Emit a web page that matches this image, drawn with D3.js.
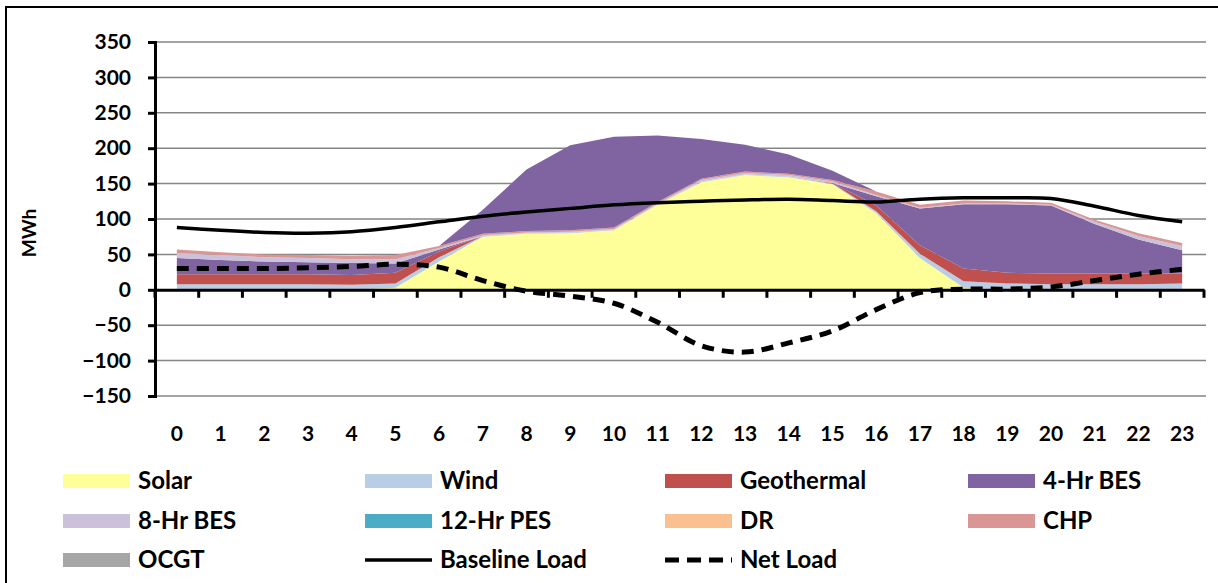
<!DOCTYPE html>
<html>
<head>
<meta charset="utf-8">
<script src="https://cdn.jsdelivr.net/npm/d3@7/dist/d3.min.js"></script>
<style>
  body { margin: 0; background: #fff; }
  text { font-family: Lato, "Open Sans", sans-serif; fill: #000; }
</style>
</head>
<body>
<div id="chart-area"></div>
<script>
// hours of the day
var hours = [0, 1, 2, 3, 4, 5, 6, 7, 8, 9, 10, 11, 12, 13, 14, 15, 16, 17, 18, 19, 20, 21, 22, 23];

// stacked generation (MWh)
var solar      = [0, 0, 0, 0, 0, 3, 40, 75, 79, 80, 84, 120, 152, 162, 159, 149, 108, 45, 3, 0, 0, 0, 0, 0];
var wind       = [8, 8, 8, 8, 7, 6, 6, 1, 1, 1, 1, 1, 1, 1, 1, 1, 3, 6, 9, 9, 8, 8, 8, 9];
var geothermal = [14, 14, 14, 14, 14, 15, 8, 0, 0, 0, 0, 0, 0, 0, 0, 1, 8, 12, 18, 15, 15, 15, 15, 14];
var bes4       = [23, 20, 18, 17, 17, 13, 3, 0, 0, 0, 0, 0, 0, 0, 0, 0, 13, 52, 91, 97, 96, 70, 48, 33];
var bes8       = [7, 7, 6, 6, 5, 6, 2, 1, 1, 1, 1, 1, 2, 2, 2, 2, 2, 1, 1, 1, 1, 3, 5, 6];
var pes12      = [0, 0, 0, 0, 0, 0, 0, 0, 0, 0, 0, 0, 0, 0, 0, 0, 0, 0, 0, 0, 0, 0, 0, 0];
var dr         = [0, 0, 0, 0, 0, 0, 0, 0, 0, 0, 0, 0, 0, 0, 0, 0, 0, 0, 0, 0, 0, 0, 0, 0];
var chp        = [5, 4, 4, 4, 5, 6, 3, 2, 2, 2, 2, 2, 2, 2, 2, 2, 5, 4, 4, 3, 3, 3, 4, 4];
var ocgt       = [0, 0, 0, 0, 0, 0, 0, 0, 0, 0, 0, 0, 0, 0, 0, 0, 0, 0, 0, 0, 0, 0, 0, 0];
// 4-Hr BES charging, stacked on top in the same colour (no legend entry)
var bes4Charge = [0, 0, 0, 0, 0, 0, 0, 34, 87, 120, 128, 94, 56, 38, 27, 13, 0, 0, 0, 0, 0, 0, 0, 0];

// load lines (MWh)
var baseline = [88, 84, 81, 80, 82, 88, 96, 104, 110, 115, 120, 123, 125, 127, 128, 126, 124, 128, 130, 130, 129, 118, 105, 96];
var netLoad  = [30, 30, 30, 31, 33, 36, 32, 13, -2, -9, -19, -46, -79, -88, -75, -58, -28, -4, 1, 1, 4, 13, 22, 29];

var yTicks = [-150, -100, -50, 0, 50, 100, 150, 200, 250, 300, 350];

var seriesNames = ["Solar", "Wind", "Geothermal", "4-Hr BES", "8-Hr BES", "12-Hr PES", "DR", "CHP", "OCGT", "4-Hr BES charge"];
var seriesData = [solar, wind, geothermal, bes4, bes8, pes12, dr, chp, ocgt, bes4Charge];
var seriesColors = ["#FFFF99", "#B9CDE5", "#C0504D", "#8064A2", "#CCC1DA", "#4BACC6", "#FAC090", "#D99694", "#A6A6A6", "#8064A2"];

var rows = hours.map(function(h, i) {
  var r = { hour: h };
  seriesNames.forEach(function(n, k) { r[n] = seriesData[k][i]; });
  return r;
});

var svg = d3.select("#chart-area")
  .append("svg")
  .attr("width", 1218)
  .attr("height", 583);

// outer frame and the clipped figure caption above it
svg.append("rect")
  .attr("x", 6).attr("y", 7)
  .attr("width", 1240).attr("height", 600)
  .attr("fill", "none")
  .attr("stroke", "#000")
  .attr("stroke-width", 2);
svg.append("text")
  .attr("x", -1).attr("y", -4)
  .attr("font-size", 20)
  .attr("font-weight", "bold")
  .text("g");

var x = d3.scaleBand()
  .domain(hours)
  .range([155, 1204]);
var xc = function(h) { return x(h) + x.bandwidth() / 2; };

var y = d3.scaleLinear()
  .domain([-150, 350])
  .range([396, 42]);

// gridlines
svg.append("g")
  .selectAll("line")
  .data(yTicks.filter(function(t) { return t !== 0; }))
  .enter()
  .append("line")
  .attr("x1", 155).attr("x2", 1206)
  .attr("y1", function(d) { return y(d); })
  .attr("y2", function(d) { return y(d); })
  .attr("stroke", "#858585")
  .attr("stroke-width", 1.5);

// stacked areas
var stack = d3.stack().keys(seriesNames);
var layers = stack(rows);

var area = d3.area()
  .x(function(d) { return xc(d.data.hour); })
  .y0(function(d) { return y(d[0]); })
  .y1(function(d) { return y(d[1]); });

svg.append("g")
  .selectAll("path")
  .data(layers)
  .enter()
  .append("path")
  .attr("d", area)
  .attr("fill", function(d, i) { return seriesColors[i]; });

// y axis
var yAxis = d3.axisLeft(y)
  .tickValues(yTicks)
  .tickSize(7)
  .tickPadding(17);
var gy = svg.append("g")
  .attr("transform", "translate(155,0)")
  .call(yAxis);
gy.select(".domain").attr("stroke", "#000").attr("stroke-width", 3);
gy.selectAll(".tick line").attr("stroke", "#000").attr("stroke-width", 3);
gy.selectAll(".tick text")
  .attr("font-size", 21)
  .attr("font-weight", "bold")
  .attr("font-family", "Lato, sans-serif");

// x axis on the zero line, labels at the bottom
var xAxis = d3.axisBottom(x).tickSize(0).tickFormat("");
var gx = svg.append("g")
  .attr("transform", "translate(0," + y(0) + ")")
  .call(xAxis);
gx.select(".domain").attr("stroke", "#000").attr("stroke-width", 3);

var bounds = hours.map(function(h) { return x(h); }).concat([x.range()[1]]);
gx.selectAll(".bound")
  .data(bounds)
  .enter()
  .append("line")
  .attr("x1", function(d) { return d; })
  .attr("x2", function(d) { return d; })
  .attr("y1", 0).attr("y2", 8)
  .attr("stroke", "#000")
  .attr("stroke-width", 3);

svg.append("g")
  .selectAll("text")
  .data(hours)
  .enter()
  .append("text")
  .attr("x", function(d) { return xc(d); })
  .attr("y", 441)
  .attr("text-anchor", "middle")
  .attr("font-size", 21)
  .attr("font-weight", "bold")
  .text(function(d) { return d; });

svg.append("text")
  .attr("transform", "translate(36,233) rotate(-90)")
  .attr("text-anchor", "middle")
  .attr("font-size", 19)
  .attr("font-weight", "bold")
  .text("MWh");

// load lines
var line = d3.line()
  .x(function(d, i) { return xc(hours[i]); })
  .y(function(d) { return y(d); })
  .curve(d3.curveCatmullRom.alpha(0.5));

svg.append("path")
  .datum(baseline)
  .attr("d", line)
  .attr("fill", "none")
  .attr("stroke", "#000")
  .attr("stroke-width", 3.5);

svg.append("path")
  .datum(netLoad)
  .attr("d", line)
  .attr("fill", "none")
  .attr("stroke", "#000")
  .attr("stroke-width", 5)
  .attr("stroke-dasharray", "12,8");

// legend
var legendItems = [
  { name: "Solar", color: seriesColors[0], type: "area" },
  { name: "Wind", color: seriesColors[1], type: "area" },
  { name: "Geothermal", color: seriesColors[2], type: "area" },
  { name: "4-Hr BES", color: seriesColors[3], type: "area" },
  { name: "8-Hr BES", color: seriesColors[4], type: "area" },
  { name: "12-Hr PES", color: seriesColors[5], type: "area" },
  { name: "DR", color: seriesColors[6], type: "area" },
  { name: "CHP", color: seriesColors[7], type: "area" },
  { name: "OCGT", color: seriesColors[8], type: "area" },
  { name: "Baseline Load", color: "#000", type: "line" },
  { name: "Net Load", color: "#000", type: "dash" }
];
var colX = [63, 365, 665, 968];
var rowY = [481, 521, 560];

var legend = svg.append("g")
  .selectAll("g")
  .data(legendItems)
  .enter()
  .append("g")
  .attr("transform", function(d, i) {
    return "translate(" + colX[i % 4] + "," + rowY[Math.floor(i / 4)] + ")";
  });

legend.filter(function(d) { return d.type === "area"; })
  .append("rect")
  .attr("x", 0).attr("y", -7)
  .attr("width", 67).attr("height", 14)
  .attr("fill", function(d) { return d.color; });

legend.filter(function(d) { return d.type !== "area"; })
  .append("line")
  .attr("x1", 0).attr("x2", 67)
  .attr("y1", 0).attr("y2", 0)
  .attr("stroke", "#000")
  .attr("stroke-width", function(d) { return d.type === "dash" ? 5 : 3.5; })
  .attr("stroke-dasharray", function(d) { return d.type === "dash" ? "14,8" : null; });

legend.append("text")
  .attr("x", 75)
  .attr("y", 8)
  .attr("font-size", 24)
  .attr("font-weight", "bold")
  .text(function(d) { return d.name; });
</script>
</body>
</html>
